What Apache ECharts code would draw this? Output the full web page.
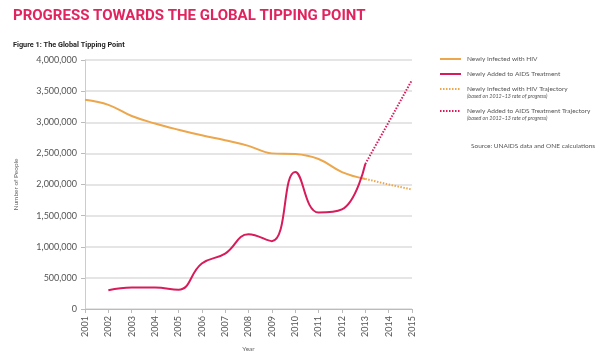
<!DOCTYPE html>
<html><head><meta charset="utf-8">
<script src="https://cdn.jsdelivr.net/npm/echarts@6/dist/echarts.min.js"></script>
<style>html,body{margin:0;padding:0;background:#fff}#c{width:600px;height:357px}</style>
</head><body><div id="c"></div>
<script>
var years = ['2001','2002','2003','2004','2005','2006','2007','2008','2009','2010','2011','2012','2013','2014','2015'];
var newlyInfected = [3360000,3280000,3100000,2980000,2880000,2790000,2710000,2620000,2500000,2490000,2410000,2200000,2090000,null,null];
var newlyTreated = [null,300000,345000,345000,310000,730000,890000,1200000,1090000,2200000,1550000,1600000,2330000,null,null];
var infectedTrajectory = [null,null,null,null,null,null,null,null,null,null,null,null,2090000,2000000,1920000];
var treatedTrajectory = [null,null,null,null,null,null,null,null,null,null,null,null,2330000,3000000,3680000];
var seriesNames = ['Newly Infected with HIV','Newly Added to AIDS Treatment','Newly Infected with HIV Trajectory','Newly Added to AIDS Treatment Trajectory'];
var trajectoryNote = '(based on 2012–13 rate of progress)';
var sourceNote = 'Source: UNAIDS data and ONE calculations';

var ORANGE = '#eca64b', RED = '#d81b5a';
var font = 'Lato, "Open Sans", sans-serif';
var chart = echarts.init(document.getElementById('c'));

function legendItem(i, y, color, dashed, note) {
  var els = [{
    type: 'line', shape: {x1: 440, y1: y, x2: 461, y2: y},
    style: {stroke: color, lineWidth: 2, lineDash: dashed ? [1.5, 1.5] : null}
  },{
    type: 'text', x: 467, y: y, style: {text: seriesNames[i], fill: '#555', fontSize: 6.5, fontFamily: font, verticalAlign: 'middle'}
  }];
  if (note) els.push({type: 'text', x: 467, y: y + 7, style: {text: note, fill: '#555', fontSize: 5.3, fontStyle: 'italic', fontFamily: font, verticalAlign: 'middle'}});
  return els;
}
var graphics = [].concat(
  legendItem(0, 59, ORANGE, false),
  legendItem(1, 74, RED, false),
  legendItem(2, 89, ORANGE, true, trajectoryNote),
  legendItem(3, 111, RED, true, trajectoryNote),
  [{type: 'text', x: 471, y: 146, style: {text: sourceNote, fill: '#555', fontSize: 6.5, fontFamily: font, verticalAlign: 'middle'}}]
);

chart.setOption({
  animation: false,
  title: [{
    text: 'PROGRESS TOWARDS THE GLOBAL TIPPING POINT',
    left: 8, top: 4,
    textStyle: {color: '#e1245f', fontSize: 15, fontWeight: 'bold', fontFamily: 'Roboto, sans-serif'}
  },{
    text: 'Figure 1: The Global Tipping Point',
    left: 8, top: 37,
    textStyle: {color: '#222', fontSize: 7.3, fontWeight: 'bold', fontFamily: 'Roboto, sans-serif'}
  }],
  grid: {left: 85, right: 188, top: 60, bottom: 46},
  xAxis: {
    type: 'category', data: years, boundaryGap: false,
    name: 'Year', nameLocation: 'middle', nameGap: 36,
    nameTextStyle: {color: '#666', fontSize: 6.5, fontFamily: font},
    axisLine: {lineStyle: {color: '#bbb', width: 1}},
    axisTick: {show: true, alignWithLabel: true, length: 4, lineStyle: {color: '#bbb'}},
    axisLabel: {rotate: 90, color: '#555', fontSize: 9, fontFamily: font, margin: 7, interval: 0},
    splitLine: {show: false}
  },
  yAxis: {
    type: 'value', min: 0, max: 4000000, interval: 500000,
    name: 'Number of People', nameLocation: 'middle', nameGap: 66,
    nameTextStyle: {color: '#666', fontSize: 6.5, fontFamily: font},
    axisLine: {show: true, lineStyle: {color: '#ccc', width: 1}},
    axisTick: {show: true, length: 4, lineStyle: {color: '#bbb'}},
    axisLabel: {color: '#555', fontSize: 9, fontFamily: font, margin: 8,
      formatter: function(v){ return v.toLocaleString('en-US'); }},
    splitLine: {lineStyle: {color: '#dcdcdc', width: 1.5}}
  },
  graphic: graphics,
  series: [
    {name: seriesNames[0], type: 'line', data: newlyInfected, smooth: 0.4, symbol: 'none',
     lineStyle: {color: ORANGE, width: 2}, itemStyle: {color: ORANGE}},
    {name: seriesNames[1], type: 'line', data: newlyTreated, smooth: 0.45, symbol: 'none',
     lineStyle: {color: RED, width: 2}, itemStyle: {color: RED}},
    {name: seriesNames[2], type: 'line', data: infectedTrajectory, smooth: false, symbol: 'none',
     lineStyle: {color: ORANGE, width: 2, type: [1.5, 1.5]}, itemStyle: {color: ORANGE}},
    {name: seriesNames[3], type: 'line', data: treatedTrajectory, smooth: false, symbol: 'none',
     lineStyle: {color: RED, width: 2, type: [1.5, 1.5]}, itemStyle: {color: RED}}
  ]
});
</script></body></html>
